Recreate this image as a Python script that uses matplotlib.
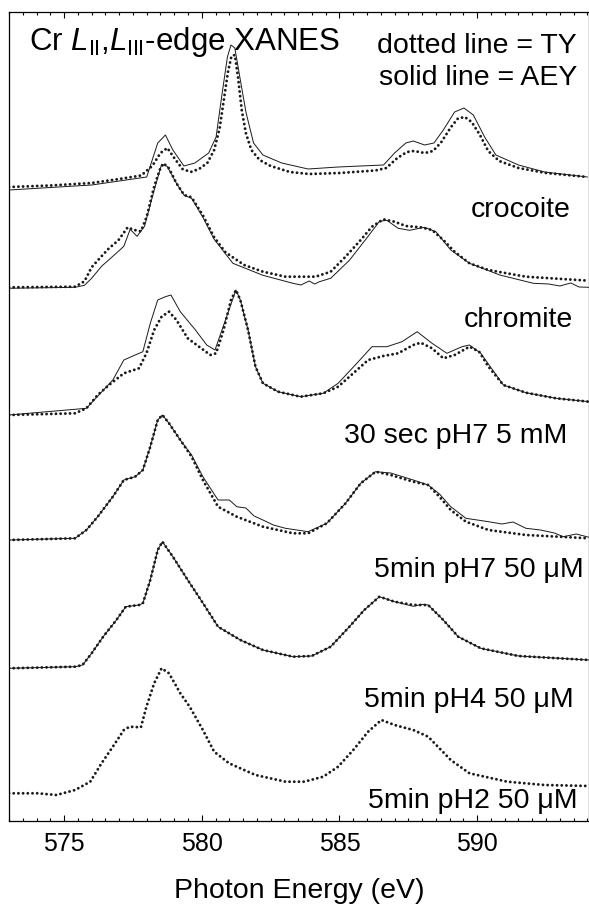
import matplotlib
matplotlib.use("Agg")
import matplotlib.pyplot as plt
from matplotlib.ticker import MultipleLocator

plt.rcParams['font.family'] = ['Liberation Sans', 'DejaVu Sans']
plt.rcParams['mathtext.fontset'] = 'custom'
plt.rcParams['mathtext.rm'] = 'Liberation Sans'
plt.rcParams['mathtext.it'] = 'Liberation Sans:italic'

# Cr L-edge XANES spectra (energy in eV, intensity in arb. units)
# TY = total yield (dotted), AEY = Auger electron yield (solid)

# crocoite
croc_ty_e = [573.0, 574.5, 576.0, 577.0, 577.8, 578.2, 578.5, 578.75, 579.0, 579.3, 579.6, 579.9,
             580.2, 580.45, 580.65, 580.8, 580.95, 581.08, 581.2, 581.32, 581.45, 581.6, 581.8, 582.1,
             582.5, 583.2, 583.9, 585.0, 586.3, 586.7, 587.1, 587.45, 587.7, 588.1, 588.4, 588.7,
             589.05, 589.3, 589.55, 589.8, 590.1, 590.4, 590.8, 591.5, 592.5, 594.0]
croc_ty = [0.0, 0.015, 0.04, 0.08, 0.115, 0.21, 0.34, 0.39, 0.29, 0.18, 0.15, 0.18,
           0.24, 0.37, 0.59, 0.87, 1.15, 1.31, 1.32, 1.09, 0.77, 0.54, 0.37, 0.27,
           0.21, 0.15, 0.13, 0.14, 0.165, 0.19, 0.29, 0.35, 0.36, 0.34, 0.36, 0.45,
           0.60, 0.685, 0.70, 0.65, 0.52, 0.36, 0.26, 0.19, 0.14, 0.10]
croc_aey_e = [573.0, 576.0, 578.0, 578.4, 578.68, 578.95, 579.35, 579.75, 580.25, 580.52, 580.72,
              580.93, 581.06, 581.2, 581.4, 581.61, 581.88, 582.22, 582.9, 583.86, 584.95, 586.6,
              587.0, 587.41, 587.68, 588.09, 588.43, 588.77, 589.18, 589.52, 589.86, 590.27,
              590.68, 591.5, 592.45, 594.0]
croc_aey = [-0.03, 0.02, 0.10, 0.44, 0.52, 0.37, 0.21, 0.24, 0.34, 0.50, 0.90,
            1.30, 1.42, 1.39, 1.07, 0.74, 0.44, 0.32, 0.24, 0.18, 0.20, 0.22,
            0.34, 0.44, 0.46, 0.42, 0.44, 0.57, 0.75, 0.79, 0.72, 0.50,
            0.32, 0.22, 0.15, 0.10]

# chromite
chrom_ty_e = [573.0, 575.4, 575.74, 576.0, 576.29, 576.63, 576.97, 577.31, 577.52, 577.79, 578.0,
              578.27, 578.47, 578.61, 578.81, 579.08, 579.36, 579.63, 580.04, 580.45, 580.86,
              581.54, 582.22, 583.04, 584.13, 584.68, 585.22, 585.77, 586.18, 586.59, 587.0,
              587.41, 587.95, 588.36, 588.77, 589.18, 589.72, 590.41, 591.77, 594.06]
chrom_ty = [0.0, 0.006, 0.06, 0.20, 0.29, 0.39, 0.47, 0.60, 0.575, 0.56, 0.706,
            1.006, 1.173, 1.24, 1.19, 1.04, 0.923, 0.90, 0.72, 0.50, 0.35,
            0.223, 0.156, 0.106, 0.106, 0.156, 0.306, 0.473, 0.606, 0.68, 0.656,
            0.613, 0.60, 0.573, 0.473, 0.356, 0.24, 0.173, 0.106, 0.066]
chrom_aey_e = [573.0, 575.4, 575.74, 576.0, 576.36, 576.77, 577.17, 577.4, 577.65, 577.92, 578.27,
               578.54, 578.74, 579.08, 579.36, 579.63, 580.04, 580.45, 581.13, 582.22, 583.31,
               583.6, 583.9, 584.1, 584.27, 584.68, 585.36, 586.04, 586.45, 586.72, 587.13,
               587.54, 588.09, 588.5, 589.04, 589.72, 590.82, 592.04, 592.6, 593.0, 593.4,
               593.7, 594.06]
chrom_aey = [-0.01, 0.0, 0.02, 0.09, 0.21, 0.31, 0.41, 0.58, 0.51, 0.61, 0.97,
             1.23, 1.21, 1.04, 0.92, 0.89, 0.70, 0.48, 0.24, 0.12, 0.04,
             0.023, 0.063, 0.033, 0.056, 0.09, 0.27, 0.51, 0.66, 0.67, 0.59,
             0.57, 0.60, 0.556, 0.373, 0.24, 0.123, 0.04, 0.033, 0.013, 0.043,
             0.003, 0.0]

# 30 sec pH7 5 mM
s30_ty_e = [573.0, 575.4, 575.81, 576.22, 576.63, 577.17, 577.72, 577.99, 578.27, 578.54, 578.81,
            579.08, 579.49, 579.9, 580.31, 580.52, 580.79, 581.06, 581.24, 581.4, 581.68, 581.95,
            582.22, 582.77, 583.59, 584.41, 584.95, 585.5, 586.04, 586.59, 587.13, 587.68,
            587.95, 588.36, 588.77, 589.18, 589.72, 590.07, 590.41, 590.95, 591.77, 592.86, 594.06]
s30_ty = [0.0, 0.017, 0.067, 0.20, 0.30, 0.417, 0.467, 0.617, 0.85, 0.983, 1.033,
          0.95, 0.767, 0.683, 0.60, 0.617, 0.85, 1.15, 1.25, 1.15, 0.85, 0.483,
          0.317, 0.233, 0.183, 0.217, 0.283, 0.417, 0.55, 0.59, 0.617, 0.70,
          0.723, 0.667, 0.567, 0.60, 0.683, 0.633, 0.483, 0.30, 0.223, 0.167, 0.133]
s30_aey_e = [573.0, 575.81, 576.77, 577.17, 577.58, 577.86, 578.13, 578.4, 578.68, 578.88, 579.22,
             579.77, 580.18, 580.48, 580.86, 581.24, 581.4, 581.68, 581.95, 582.22, 582.77,
             583.59, 584.41, 584.95, 585.63, 586.18, 586.72, 587.27, 587.82, 588.36, 588.9,
             589.45, 589.72, 590.13, 590.95, 591.77, 592.86, 594.06]
s30_aey = [0.0, 0.067, 0.35, 0.55, 0.60, 0.633, 0.917, 1.15, 1.183, 1.20, 1.033,
           0.85, 0.70, 0.65, 0.95, 1.25, 1.15, 0.85, 0.483, 0.317, 0.233,
           0.183, 0.217, 0.317, 0.517, 0.683, 0.683, 0.733, 0.833, 0.717, 0.617,
           0.683, 0.70, 0.617, 0.30, 0.223, 0.167, 0.133]

# 5min pH7 50 uM
ph7_ty_e = [573.0, 575.4, 575.81, 576.22, 576.77, 577.17, 577.58, 577.86, 578.13, 578.4, 578.57,
            578.81, 579.22, 579.63, 580.04, 580.59, 581.27, 582.22, 583.31, 583.86, 584.54,
            585.22, 585.77, 586.31, 586.86, 587.68, 588.22, 588.63, 589.04, 589.59, 590.41,
            591.77, 594.06]
ph7_ty = [0.0, 0.017, 0.10, 0.233, 0.433, 0.60, 0.633, 0.70, 0.933, 1.20, 1.25,
          1.167, 1.00, 0.833, 0.60, 0.333, 0.233, 0.133, 0.067, 0.067, 0.167,
          0.367, 0.567, 0.683, 0.65, 0.583, 0.55, 0.433, 0.30, 0.183, 0.10,
          0.05, 0.017]
ph7_aey_e = [573.0, 575.4, 575.81, 576.22, 576.77, 577.17, 577.58, 577.86, 578.13, 578.4, 578.57,
             578.81, 579.22, 579.63, 580.04, 580.59, 581.0, 581.27, 581.6, 581.9, 582.22,
             582.6, 583.04, 583.86, 584.54, 585.22, 585.77, 586.31, 586.86, 587.68, 588.22,
             588.63, 589.04, 589.59, 590.0, 590.41, 590.9, 591.3, 591.77, 592.3, 592.8,
             593.13, 593.6, 594.06]
ph7_aey = [0.0, 0.017, 0.10, 0.233, 0.433, 0.60, 0.633, 0.70, 0.933, 1.20, 1.25,
           1.167, 1.00, 0.85, 0.633, 0.40, 0.40, 0.333, 0.32, 0.24, 0.20,
           0.15, 0.117, 0.083, 0.167, 0.367, 0.567, 0.683, 0.67, 0.60, 0.55,
           0.46, 0.333, 0.217, 0.20, 0.183, 0.16, 0.18, 0.117, 0.10, 0.07,
           0.033, 0.06, 0.027]

# 5min pH4 50 uM
ph4_ty_e = [573.0, 575.4, 575.67, 576.0, 576.42, 576.9, 577.24, 577.72, 577.86, 578.13, 578.4,
            578.57, 578.95, 579.49, 580.04, 580.59, 581.4, 582.22, 583.31, 583.99, 584.68,
            585.36, 585.9, 586.31, 586.45, 587.0, 587.68, 588.22, 588.77, 589.31, 590.13,
            591.5, 594.06]
ph4_ty = [0.0, 0.016, 0.033, 0.15, 0.316, 0.483, 0.616, 0.633, 0.65, 0.883, 1.183,
          1.266, 1.116, 0.883, 0.653, 0.416, 0.283, 0.183, 0.116, 0.123, 0.216,
          0.416, 0.583, 0.683, 0.716, 0.666, 0.633, 0.633, 0.483, 0.316, 0.20,
          0.123, 0.083]
ph4_aey_e = [573.0, 575.4, 575.67, 576.0, 576.42, 576.9, 577.24, 577.72, 577.86, 578.13, 578.4,
             578.57, 578.95, 579.49, 580.04, 580.59, 581.4, 582.22, 583.31, 583.99, 584.68,
             585.36, 585.9, 586.31, 586.45, 587.0, 587.68, 588.0, 588.22, 588.77, 589.31,
             590.13, 591.5, 594.06]
ph4_aey = [0.0, 0.016, 0.033, 0.15, 0.316, 0.483, 0.616, 0.633, 0.65, 0.883, 1.183,
           1.266, 1.116, 0.883, 0.653, 0.416, 0.283, 0.183, 0.116, 0.123, 0.216,
           0.416, 0.583, 0.683, 0.716, 0.666, 0.62, 0.64, 0.633, 0.483, 0.316,
           0.20, 0.123, 0.083]

# 5min pH2 50 uM (TY only)
ph2_ty_e = [573.0, 574.04, 574.72, 575.4, 575.95, 576.36, 576.77, 577.17, 577.38, 577.79, 577.99,
            578.27, 578.54, 578.81, 579.22, 579.56, 580.04, 580.45, 580.99, 581.95, 583.04,
            583.72, 584.41, 584.95, 585.5, 586.04, 586.52, 587.0, 587.68, 588.22, 588.63,
            589.04, 589.72, 591.09, 592.45, 594.06]
ph2_ty = [0.0, 0.0, -0.017, 0.033, 0.116, 0.30, 0.466, 0.633, 0.666, 0.66, 0.866,
          1.10, 1.25, 1.20, 1.00, 0.866, 0.633, 0.416, 0.30, 0.183, 0.116,
          0.116, 0.166, 0.266, 0.433, 0.616, 0.733, 0.683, 0.633, 0.566, 0.45,
          0.333, 0.20, 0.116, 0.083, 0.073]

labels = ["crocoite", "chromite", "30 sec pH7 5 mM", "5min pH7 50 \u03bcM",
          "5min pH4 50 \u03bcM", "5min pH2 50 \u03bcM"]
offsets = [6.335, 5.332, 4.055, 2.805, 1.522, 0.272]

ty_sets = [(croc_ty_e, croc_ty), (chrom_ty_e, chrom_ty), (s30_ty_e, s30_ty),
           (ph7_ty_e, ph7_ty), (ph4_ty_e, ph4_ty), (ph2_ty_e, ph2_ty)]
aey_sets = [(croc_aey_e, croc_aey), (chrom_aey_e, chrom_aey), (s30_aey_e, s30_aey),
            (ph7_aey_e, ph7_aey), (ph4_aey_e, ph4_aey), None]

W, H = 589, 906
fig = plt.figure(figsize=(W / 100, H / 100), dpi=100)
ax = fig.add_axes([9 / W, (H - 820.5) / H, 580 / W, 808.5 / H])

for i in range(len(labels)):
    e, s = ty_sets[i]
    ax.plot(e, [v + offsets[i] for v in s], color='#1a1a1a', lw=2.1,
            linestyle=(0, (0.01, 1.6)), dash_capstyle='round')
    if aey_sets[i] is not None:
        e, s = aey_sets[i]
        ax.plot(e, [v + offsets[i] for v in s], color='#1a1a1a', lw=0.7)

ax.set_xlim(573, 594.06)
ax.set_ylim(0, 8.085)
ax.xaxis.set_major_locator(MultipleLocator(5))
ax.xaxis.set_minor_locator(MultipleLocator(0.5))
ax.tick_params(axis='x', which='both', direction='in', top=True, bottom=True,
               labelsize=18, pad=8, width=0.8)
ax.tick_params(axis='x', which='major', length=4.5)
ax.tick_params(axis='x', which='minor', length=2.3)
ax.set_yticks([])
for sp in ax.spines.values():
    sp.set_linewidth(0.9)
ax.set_xlabel("Photon Energy (eV)", fontsize=20.5, labelpad=16)

# text placed by pixel position in the reference
def ftext(x, y, s, **kw):
    fig.text(x / W, 1 - y / H, s, va='baseline', **kw)

ftext(29, 50, r"Cr $L_{\mathrm{II}}$,$L_{\mathrm{III}}$-edge XANES", fontsize=22.5)
ftext(577, 53, "dotted line = TY", fontsize=20.5, ha='right')
ftext(577, 85, "solid line = AEY", fontsize=20.5, ha='right')

label_pos = [(571, 217), (573, 327), (567, 443), (584, 577), (574, 707), (578, 808)]
for lab, (x, y) in zip(labels, label_pos):
    ftext(x, y, lab, fontsize=20.5, ha='right')

fig.savefig("out.png", dpi=100)
